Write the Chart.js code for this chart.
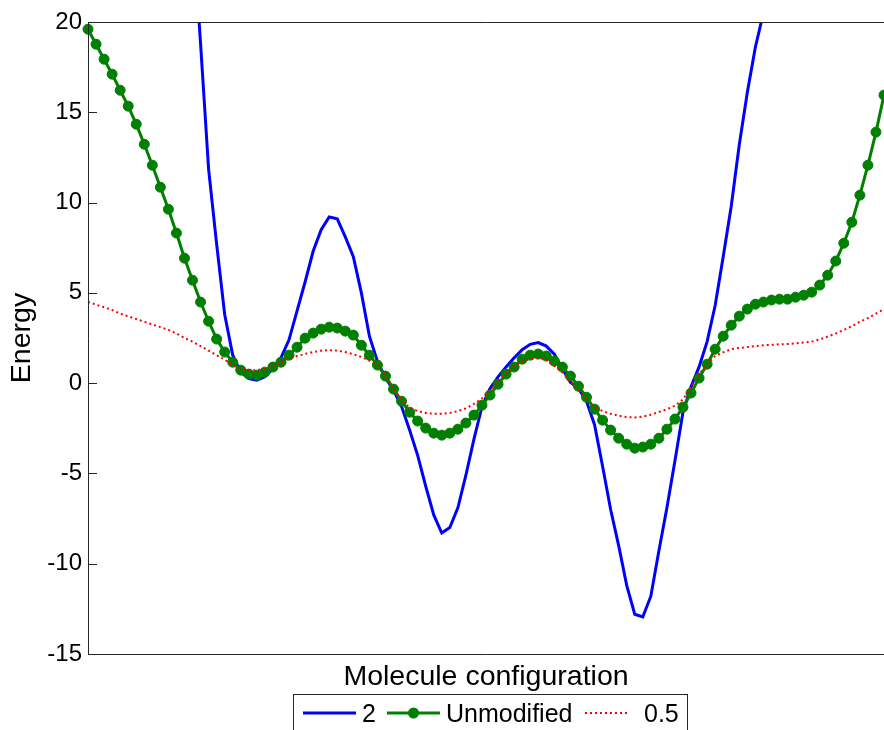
<!DOCTYPE html>
<html>
<head>
<meta charset="utf-8">
<script src="https://cdn.jsdelivr.net/npm/chart.js@4.4.0/dist/chart.umd.min.js"></script>
<style>
  html, body { margin: 0; padding: 0; background: #fff; }
  #wrap { width: 884px; height: 730px; position: relative; }
</style>
</head>
<body>
<div id="wrap"><canvas id="energyChart"></canvas></div>
<script>
// Molecule configuration index (100 samples, no tick labels on the x axis)
const configs = Array.from({ length: 100 }, (_, i) => i + 1);

const yTicks = [20, 15, 10, 5, 0, -5, -10, -15];

// scale factor 2 (goes off the top of the plot at both ends)
const energyX2 = [
  80, 74, 68, 62, 57, 52, 47, 43, 39, 35,
  32, 29, 27, 25.5, 18.8, 11.85, 7.7, 3.8, 1.55, 0.6,
  0.25, 0.17, 0.35, 0.8, 1.4, 2.4, 4.0, 5.6, 7.3, 8.5,
  9.2, 9.1, 8.1, 7.0, 5.0, 2.6, 1.2, 0.3, -0.4, -1.3,
  -2.6, -4.0, -5.7, -7.3, -8.3, -8.0, -6.9, -5.1, -3.1, -1.3,
  -0.3, 0.35, 0.9, 1.4, 1.85, 2.15, 2.25, 2.05, 1.6, 0.8,
  0.05, -0.3, -1.0, -2.3, -4.6, -7.0, -9.0, -11.2, -12.8, -12.95,
  -11.8, -9.3, -6.9, -4.3, -1.6, -0.2, 0.9, 2.3, 4.3, 7.0,
  9.8, 13.2, 16.1, 18.6, 20.5, 22.5, 25, 28, 31, 34,
  37, 41, 45, 50, 55, 61, 67, 74, 81, 88
];

// unmodified potential
const energyUnmod = [
  19.6, 18.77, 17.94, 17.11, 16.22, 15.34, 14.34, 13.23, 12.07, 10.85,
  9.63, 8.31, 6.92, 5.70, 4.49, 3.43, 2.44, 1.72, 1.16, 0.72,
  0.50, 0.44, 0.61, 0.89, 1.16, 1.55, 1.99, 2.49, 2.77, 2.99,
  3.10, 3.05, 2.88, 2.66, 2.10, 1.55, 1.00, 0.39, -0.33, -1.00,
  -1.61, -2.10, -2.49, -2.77, -2.88, -2.77, -2.55, -2.21, -1.77, -1.22,
  -0.66, -0.06, 0.50, 0.89, 1.33, 1.55, 1.61, 1.50, 1.22, 0.89,
  0.39, -0.17, -0.78, -1.44, -2.05, -2.60, -3.05, -3.38, -3.60, -3.54,
  -3.38, -3.05, -2.55, -1.99, -1.33, -0.55, 0.28, 1.05, 1.88, 2.60,
  3.21, 3.71, 4.10, 4.37, 4.49, 4.60, 4.65, 4.65, 4.76, 4.87,
  5.04, 5.43, 5.98, 6.76, 7.75, 8.91, 10.41, 12.07, 13.90, 15.95
];

// scale factor 0.5
const energyHalf = [
  4.5, 4.35, 4.2, 4.05, 3.85, 3.7, 3.55, 3.4, 3.25, 3.1,
  2.95, 2.75, 2.5, 2.3, 2.05, 1.8, 1.55, 1.3, 1.0, 0.8,
  0.72, 0.72, 0.8, 0.95, 1.15, 1.35, 1.5, 1.62, 1.72, 1.8,
  1.83, 1.8, 1.72, 1.6, 1.45, 1.25, 1.0, 0.45, -0.35, -0.95,
  -1.35, -1.55, -1.65, -1.7, -1.7, -1.65, -1.55, -1.4, -1.15, -0.85,
  -0.4, 0.1, 0.55, 0.95, 1.2, 1.35, 1.4, 1.3, 0.95, 0.6,
  0.1, -0.4, -0.85, -1.3, -1.55, -1.7, -1.8, -1.88, -1.9, -1.85,
  -1.75, -1.6, -1.45, -1.25, -0.9, -0.2, 0.5, 1.05, 1.5, 1.7,
  1.88, 1.95, 2.0, 2.05, 2.1, 2.12, 2.15, 2.17, 2.2, 2.25,
  2.3, 2.42, 2.58, 2.75, 2.95, 3.15, 3.4, 3.6, 3.85, 4.1
];

const FONT = '"Liberation Sans", Arial, sans-serif';
const AXIS_COLOR = '#262626';

// frame, inward ticks and the boxed legend under the axis title
const frameAndLegend = {
  id: 'frameAndLegend',
  afterDraw(chart) {
    const ctx = chart.ctx;
    const a = chart.chartArea;
    const yScale = chart.scales.y;
    ctx.save();
    ctx.strokeStyle = AXIS_COLOR;
    ctx.lineWidth = 1;
    ctx.beginPath();
    ctx.moveTo(a.left + 0.5, a.top + 0.5);
    ctx.lineTo(a.right, a.top + 0.5);
    ctx.moveTo(a.left + 0.5, a.top);
    ctx.lineTo(a.left + 0.5, a.bottom + 0.5);
    ctx.lineTo(a.right, a.bottom + 0.5);
    yTicks.forEach(v => {
      const py = Math.round(yScale.getPixelForValue(v)) + 0.5;
      ctx.moveTo(a.left, py);
      ctx.lineTo(a.left + 9, py);
    });
    ctx.stroke();

    // legend
    const ds = chart.data.datasets;
    const ly = 713;
    ctx.fillStyle = '#fff';
    ctx.fillRect(293, 694, 394, 40);
    ctx.strokeStyle = AXIS_COLOR;
    ctx.strokeRect(293.5, 694.5, 394, 60);

    ctx.font = '25px ' + FONT;
    ctx.fillStyle = '#000';
    ctx.textBaseline = 'alphabetic';
    ctx.textAlign = 'left';

    // "2"
    ctx.strokeStyle = ds[0].borderColor;
    ctx.lineWidth = 3;
    ctx.beginPath(); ctx.moveTo(303, ly); ctx.lineTo(356, ly); ctx.stroke();
    ctx.fillText(ds[0].label, 362, 722);

    // "Unmodified"
    ctx.strokeStyle = ds[1].borderColor;
    ctx.beginPath(); ctx.moveTo(387, ly); ctx.lineTo(440, ly); ctx.stroke();
    ctx.fillStyle = ds[1].pointBackgroundColor;
    ctx.beginPath(); ctx.arc(413.5, ly, 5.5, 0, Math.PI * 2); ctx.fill();
    ctx.fillStyle = '#000';
    ctx.fillText(ds[1].label, 446, 722);

    // "0.5"
    ctx.strokeStyle = ds[2].borderColor;
    ctx.lineWidth = 2;
    ctx.setLineDash([2, 3]);
    ctx.beginPath(); ctx.moveTo(585, ly); ctx.lineTo(630, ly); ctx.stroke();
    ctx.setLineDash([]);
    ctx.fillText(ds[2].label, 644, 722);
    ctx.restore();
  }
};

const ctx = document.getElementById('energyChart').getContext('2d');
const energyChart = new Chart(ctx, {
  type: 'line',
  data: {
    labels: configs,
    datasets: [
      {
        label: '2',
        data: energyX2,
        borderColor: '#0000ff',
        borderWidth: 3,
        pointRadius: 0,
        tension: 0,
        order: 2
      },
      {
        label: 'Unmodified',
        data: energyUnmod,
        borderColor: '#008000',
        backgroundColor: '#008000',
        borderWidth: 3,
        pointRadius: 5,
        pointBorderWidth: 1,
        pointBackgroundColor: '#008000',
        pointBorderColor: '#008000',
        tension: 0,
        order: 1
      },
      {
        label: '0.5',
        data: energyHalf,
        borderColor: '#ff0000',
        borderWidth: 2,
        borderDash: [2, 3],
        pointRadius: 0,
        tension: 0,
        order: 0
      }
    ]
  },
  options: {
    responsive: true,
    maintainAspectRatio: false,
    animation: false,
    layout: { autoPadding: false, padding: { top: 22, right: 0, bottom: 36, left: 0 } },
    plugins: {
      legend: { display: false },
      tooltip: { enabled: false }
    },
    scales: {
      x: {
        type: 'category',
        offset: false,
        grid: { display: false, drawTicks: false },
        border: { display: false },
        ticks: { display: false },
        title: {
          display: true,
          text: 'Molecule configuration',
          color: '#000',
          font: { family: FONT, size: 28.5 },
          padding: { top: 0, bottom: 0 }
        },
        afterFit: s => { s.height = 40; }
      },
      y: {
        min: -15,
        max: 20,
        grid: { display: false, drawTicks: false },
        border: { display: false },
        ticks: {
          stepSize: 5,
          padding: 6,
          color: '#000',
          font: { family: FONT, size: 24 }
        },
        title: {
          display: true,
          text: 'Energy',
          color: '#000',
          font: { family: FONT, size: 28.5 },
          padding: { top: 5, bottom: 0 }
        },
        afterFit: s => { s.width = 88; }
      }
    }
  },
  plugins: [frameAndLegend]
});
</script>
</body>
</html>
